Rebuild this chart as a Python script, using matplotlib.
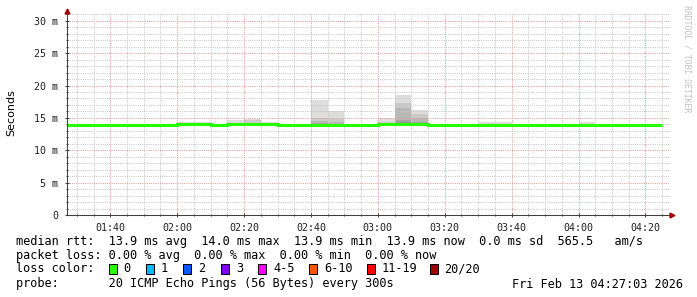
import matplotlib
matplotlib.use('Agg')
import matplotlib.pyplot as plt
import matplotlib.dates as mdates
import matplotlib.transforms as mtransforms
from matplotlib.ticker import MultipleLocator, FixedLocator, FixedFormatter
import pandas as pd

# median rtt (ms) per 5-minute step, 01:25 .. 04:20
median_rtt = [13.9, 13.9, 13.9, 13.9, 13.9, 13.9, 13.9,   # 01:25-01:55
              14.0, 14.0, 13.9, 14.0, 14.0, 14.0,          # 02:00-02:25
              13.9, 13.9, 13.9, 13.9, 13.9, 13.9,          # 02:30-02:55
              14.0, 14.0, 14.0, 13.9, 13.9, 13.9,          # 03:00-03:25
              13.9, 13.9, 13.9, 13.9, 13.9, 13.9,          # 03:30-03:55
              13.9, 13.9, 13.9, 13.9, 13.9]                # 04:00-04:20

# smoke: upper ping values (outermost -> innermost) for steps that show spread
smoke_times = ['02:00', '02:05', '02:15', '02:20', '02:25', '02:40', '02:45',
               '03:00', '03:05', '03:10', '03:30', '03:35', '04:00']
smoke_upper = [
    [14.4, 14.15, 14.1, 14.05, 14.05, 14.0, 14.0, 14.0, 14.0, 14.0],
    [14.4, 14.15, 14.1, 14.05, 14.05, 14.0, 14.0, 14.0, 14.0, 14.0],
    [14.6, 14.2, 14.1, 14.05, 14.05, 14.0, 14.0, 14.0, 14.0, 14.0],
    [14.9, 14.6, 14.2, 14.1, 14.05, 14.0, 14.0, 14.0, 14.0, 14.0],
    [14.4, 14.15, 14.1, 14.05, 14.05, 14.0, 14.0, 14.0, 14.0, 14.0],
    [17.8, 15.0, 14.5, 14.2, 14.1, 14.0, 14.0, 13.95, 13.95, 13.9],
    [16.0, 14.8, 14.3, 14.1, 14.0, 14.0, 13.95, 13.95, 13.9, 13.9],
    [15.0, 14.4, 14.2, 14.1, 14.05, 14.0, 14.0, 14.0, 14.0, 14.0],
    [18.5, 17.3, 16.5, 14.7, 14.3, 14.2, 14.1, 14.1, 14.05, 14.0],
    [16.2, 15.6, 15.0, 14.4, 14.2, 14.1, 14.05, 14.0, 14.0, 14.0],
    [14.3, 14.1, 14.0, 13.95, 13.95, 13.9, 13.9, 13.9, 13.9, 13.9],
    [14.3, 14.1, 14.0, 13.95, 13.95, 13.9, 13.9, 13.9, 13.9, 13.9],
    [14.3, 14.1, 14.0, 13.95, 13.95, 13.9, 13.9, 13.9, 13.9, 13.9],
]

ytick_values = [0, 5, 10, 15, 20, 25, 30]
ytick_labels = ['0', '5 m', '10 m', '15 m', '20 m', '25 m', '30 m']

loss_labels = ['0', '1', '2', '3', '4-5', '6-10', '11-19', '20/20']
loss_colors = ['#26ff00', '#00b8ff', '#0059ff', '#7e00ff', '#ff00ff',
               '#ff5500', '#ff0000', '#a10000']

legend_lines = [
    'median rtt:  13.9 ms avg  14.0 ms max  13.9 ms min  13.9 ms now  0.0 ms sd  565.5   am/s',
    'packet loss: 0.00 % avg  0.00 % max  0.00 % min  0.00 % now',
    'loss color:',
    'probe:       20 ICMP Echo Pings (56 Bytes) every 300s',
]
stamp = 'Fri Feb 13 04:27:03 2026'

day = '2026-02-13 '
edges = pd.date_range(day + '01:25', periods=len(median_rtt) + 1, freq='5min')
edge_num = mdates.date2num(edges.to_pydatetime())
step = edge_num[1] - edge_num[0]

W, H = 697, 297
fig = plt.figure(figsize=(W / 100, H / 100), dpi=100)
fig.patch.set_facecolor('white')
ax = fig.add_axes([67 / W, 82 / H, 602 / W, 202 / H])

# smoke layers, lightest outside, darker inside
for t, ups in zip(smoke_times, smoke_upper):
    x0 = mdates.date2num(pd.Timestamp(day + t).to_pydatetime())
    k = int(round((x0 - edge_num[0]) / step))
    for i, hi in enumerate(ups):
        g = int(190 / 10 * (10 - (i + 1))) + 50
        ax.fill_between([x0, x0 + step], median_rtt[k], hi,
                        color='#%02x%02x%02x' % (g, g, g), lw=0, zorder=1)

ax.stairs(median_rtt, edge_num, baseline=None, color='#26ff00', lw=2.2, zorder=3)

ax.xaxis_date()
ax.set_xlim(mdates.date2num(pd.Timestamp(day + '01:27:03').to_pydatetime()),
            mdates.date2num(pd.Timestamp(day + '04:27:03').to_pydatetime()))
ax.set_ylim(0, 31.2)

ax.xaxis.set_major_locator(mdates.MinuteLocator(byminute=[0, 20, 40]))
ax.xaxis.set_minor_locator(mdates.MinuteLocator(byminute=range(0, 60, 5)))
ax.xaxis.set_major_formatter(mdates.DateFormatter('%H:%M'))
ax.yaxis.set_major_locator(FixedLocator(ytick_values))
ax.yaxis.set_major_formatter(FixedFormatter(ytick_labels))
ax.yaxis.set_minor_locator(MultipleLocator(1))

ax.set_axisbelow(False)
ax.grid(which='minor', color='#c6c6c6', lw=0.72, ls=(0, (1, 1.2)))
ax.grid(which='major', color='#e49a9a', lw=0.72, ls=(0, (1, 1.2)))

for s in ['top', 'right']:
    ax.spines[s].set_visible(False)
for s in ['left', 'bottom']:
    ax.spines[s].set_color('#404040')
    ax.spines[s].set_linewidth(0.75)
    ax.spines[s].set_zorder(4)

mono = 'DejaVu Sans Mono'
ax.tick_params(which='both', direction='inout', color='#404040', width=0.75)
ax.tick_params(which='major', length=3)
ax.tick_params(which='minor', length=2)
ax.tick_params(axis='y', which='major', pad=5)
ax.tick_params(axis='x', which='major', pad=4)
for lab in ax.get_xticklabels() + ax.get_yticklabels():
    lab.set_family(mono)
    lab.set_fontsize(7.2)
    lab.set_color('#202020')

# arrows at the axis ends
up = mtransforms.offset_copy(ax.transAxes, fig=fig, x=0, y=2, units='dots')
rt = mtransforms.offset_copy(ax.transAxes, fig=fig, x=3, y=0, units='dots')
ax.plot([0], [1], marker='^', ms=3.5, color='#a00000', transform=up, clip_on=False, zorder=5)
ax.plot([1], [0], marker='>', ms=3.5, color='#a00000', transform=rt, clip_on=False, zorder=5)

fig.text(11 / W, 1 - 113 / H, 'Seconds', rotation=90, ha='center', va='center',
         fontsize=8, family='DejaVu Sans')
fig.text(687 / W, 1 - 5 / H, 'RRDTOOL / TOBI OETIKER', rotation=270, ha='center',
         va='top', fontsize=5.9, family=mono, color='#c0c0c0')

rows_y = [241, 255, 269, 284]
for txt, y in zip(legend_lines, rows_y):
    fig.text(16 / W, 1 - y / H, txt, ha='left', va='center', fontsize=8.55, family=mono)
fig.text(683 / W, 1 - rows_y[3] / H, stamp, ha='right', va='center', fontsize=8.55, family=mono)

box_x = [108.5, 146, 183.5, 221, 258, 309, 367, 429.5]
for bx, lab, col in zip(box_x, loss_labels, loss_colors):
    fig.patches.append(plt.Rectangle((bx / W, 1 - (rows_y[2] + 5) / H), 8 / W, 10 / H,
                                     transform=fig.transFigure, facecolor=col,
                                     edgecolor='black', lw=0.75))
    fig.text((bx + 15) / W, 1 - rows_y[2] / H, lab, ha='left', va='center',
             fontsize=8.55, family=mono)

fig.savefig('out.png', dpi=100)
